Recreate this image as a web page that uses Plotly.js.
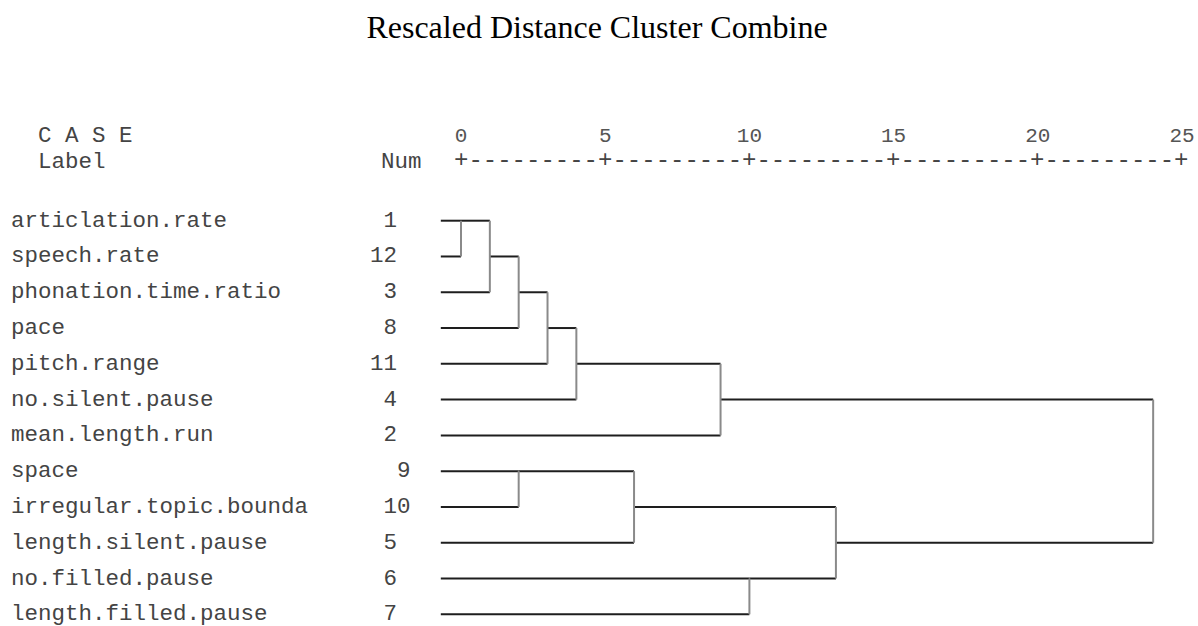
<!DOCTYPE html>
<html>
<head>
<meta charset="utf-8">
<script src="https://cdn.plot.ly/plotly-3.0.1.min.js"></script>
<style>html,body{margin:0;padding:0;background:#fff;}#chart{width:1198px;height:626px;}</style>
</head>
<body>
<div id="chart"></div>
<script>
// ---- data ----
var caseLabels = ['articlation.rate','speech.rate','phonation.time.ratio','pace','pitch.range',
  'no.silent.pause','mean.length.run','space','irregular.topic.bounda','length.silent.pause',
  'no.filled.pause','length.filled.pause'];
var caseNums = [' 1','12',' 3',' 8','11',' 4',' 2','  9',' 10',' 5',' 6',' 7'];
// merges: leaves 0..11 (display order), new clusters numbered 12, 13, ...
var mergeA = [0, 12, 13, 14, 15, 16, 7, 18, 10, 19, 17];
var mergeB = [1, 2, 3, 4, 5, 6, 8, 9, 11, 20, 21];
var mergeDist = [0, 1, 2, 3, 4, 9, 2, 6, 10, 13, 24];
var tickVals = [0, 5, 10, 15, 20, 25];
var scaleString = '+---------+---------+---------+---------+---------+';
var titleText = 'Rescaled Distance Cluster Combine';

// ---- build dendrogram segments ----
var W = 1198, H = 626;
var LEAF_START = -0.7;
var n = caseLabels.length;
var row = [], start = [];
for (var i = 0; i < n; i++) { row.push(i); start.push(LEAF_START); }
var hx = [], hy = [], vx = [], vy = [];
for (var m = 0; m < mergeA.length; m++) {
  var a = mergeA[m], b = mergeB[m], d = mergeDist[m];
  hx.push(start[a], d, null); hy.push(row[a], row[a], null);
  hx.push(start[b], d, null); hy.push(row[b], row[b], null);
  vx.push(d, d, null); vy.push(row[a], row[b], null);
  row.push(Math.floor((row[a] + row[b]) / 2));
  start.push(d);
}

var mono = 'Liberation Mono, Courier New, monospace';
var txtFont = {family:mono, size:22.5, color:'#444'};
var annotations = [];
for (var k = 0; k < n; k++) {
  annotations.push({xref:'paper', yref:'y', x:10/W, y:k, xanchor:'left', yanchor:'middle', borderpad:0,
    text:caseLabels[k], showarrow:false, font:txtFont});
  annotations.push({xref:'paper', yref:'y', x:369/W, y:k, xanchor:'left', yanchor:'middle', borderpad:0,
    text:caseNums[k].replace(/ /g,'\u00A0'), showarrow:false, font:txtFont});
}
annotations.push({xref:'paper', yref:'paper', x:37/W, y:1-136/H, xanchor:'left', yanchor:'middle', borderpad:0,
  text:'C\u00A0A\u00A0S\u00A0E', showarrow:false, font:txtFont});
annotations.push({xref:'paper', yref:'paper', x:37/W, y:1-162/H, xanchor:'left', yanchor:'middle', borderpad:0,
  text:'Label', showarrow:false, font:txtFont});
annotations.push({xref:'paper', yref:'paper', x:380/W, y:1-162/H, xanchor:'left', yanchor:'middle', borderpad:0,
  text:'Num', showarrow:false, font:txtFont});
annotations.push({xref:'x', yref:'paper', x:(tickVals[0]+tickVals[tickVals.length-1])/2, y:1-160/H,
  xanchor:'center', yanchor:'middle', borderpad:0, text:scaleString, showarrow:false,
  font:{family:mono, size:24, color:'#444'}});

var pxPerUnit = 28.84, zeroPx = 461;
var rowPx0 = 220.7, rowStep = 35.78;

var traces = [
  {x:hx, y:hy, mode:'lines', type:'scatter', line:{color:'#1e1e1e', width:2}, hoverinfo:'skip', showlegend:false},
  {x:vx, y:vy, mode:'lines', type:'scatter', line:{color:'#8a8a8a', width:2}, hoverinfo:'skip', showlegend:false}
];

var layout = {
  width:W, height:H,
  margin:{l:0, r:0, t:0, b:0, pad:0},
  paper_bgcolor:'#fff', plot_bgcolor:'#fff',
  showlegend:false,
  title:{text:titleText, x:597/W, xanchor:'center', xref:'paper', y:1-27/H, yanchor:'middle', yref:'container',
    font:{family:'Liberation Serif, Times New Roman, serif', size:32, color:'#000'}},
  xaxis:{range:[-zeroPx/pxPerUnit, (W-zeroPx)/pxPerUnit], side:'top', anchor:'free', position:1-160/H,
    tickvals:tickVals, ticktext:tickVals.map(String), showgrid:false, zeroline:false, showline:false,
    ticks:'', ticklabelstandoff:14, tickfont:{family:mono, size:21, color:'#555'}, fixedrange:true},
  yaxis:{range:[(H-rowPx0)/rowStep, -rowPx0/rowStep], visible:false, showgrid:false, zeroline:false, fixedrange:true},
  annotations:annotations
};

Plotly.newPlot('chart', traces, layout, {displayModeBar:false, staticPlot:true});
</script>
</body>
</html>
